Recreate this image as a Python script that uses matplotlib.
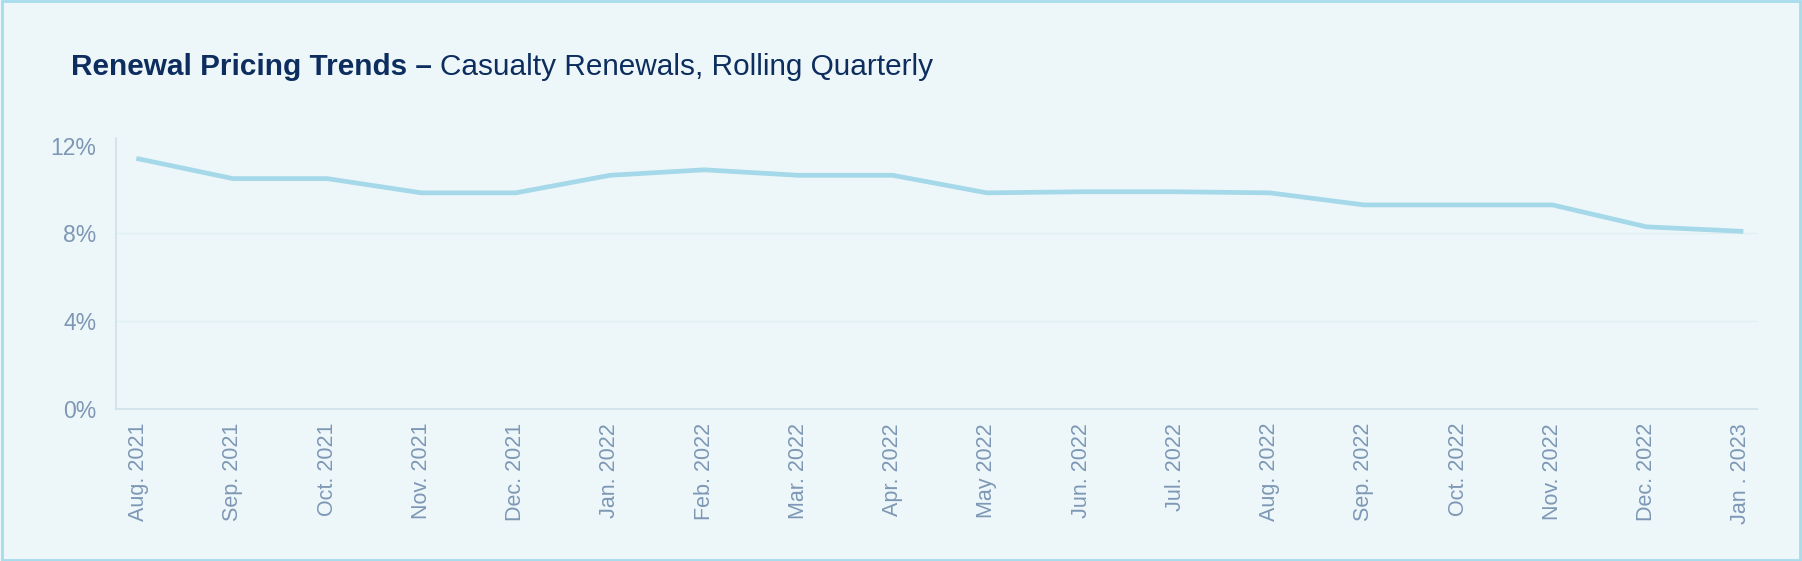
import matplotlib.pyplot as plt
from matplotlib.patches import Rectangle

months = ["Aug. 2021", "Sep. 2021", "Oct. 2021", "Nov. 2021", "Dec. 2021",
          "Jan. 2022", "Feb. 2022", "Mar. 2022", "Apr. 2022", "May 2022",
          "Jun. 2022", "Jul. 2022", "Aug. 2022", "Sep. 2022", "Oct. 2022",
          "Nov. 2022", "Dec. 2022", "Jan . 2023"]
pricing = [11.4, 10.5, 10.5, 9.85, 9.85, 10.65, 10.9, 10.65, 10.65, 9.85,
           9.9, 9.9, 9.85, 9.3, 9.3, 9.3, 8.3, 8.1]
yticks = [0, 4, 8, 12]
grid_levels = [4, 8]

bg = "#edf7f9"
navy = "#0c2d5e"
tick_col = "#7d97b5"

plt.rcParams['font.family'] = ['Liberation Sans', 'DejaVu Sans']

fig = plt.figure(figsize=(18.02, 5.61), dpi=100, facecolor=bg)
ax = fig.add_axes([116 / 1802, 1 - 409 / 561, (1757 - 116) / 1802, (409 - 138) / 561])
ax.set_facecolor(bg)

x = list(range(len(months)))
ax.plot(x, pricing, color="#a5d8e9", lw=3.4, solid_joinstyle="round", zorder=3)

for g in grid_levels:
    ax.axhline(g, color="#dfeef2", lw=1, zorder=1)

ax.set_xlim(-0.24, len(months) - 1 + 0.17)
ax.set_ylim(0, 12.35)
ax.set_yticks(yticks)
ax.set_yticklabels([f"{v}%" for v in yticks])
ax.set_xticks(x)
ax.set_xticklabels(months, rotation=90)
ax.tick_params(axis="both", length=0, colors=tick_col, labelsize=15.5)
ax.tick_params(axis="x", pad=10)
ax.tick_params(axis="y", pad=14)
for lbl in ax.get_yticklabels():
    lbl.set_fontsize(16.5)

for s in ["top", "right"]:
    ax.spines[s].set_visible(False)
for s in ["left", "bottom"]:
    ax.spines[s].set_color("#cfe1ea")
    ax.spines[s].set_linewidth(1.2)

# title: bold part + regular part
t1 = fig.text(71 / 1802, 1 - 67 / 561, "Renewal Pricing Trends \u2013 ", color=navy,
              fontsize=21.4, fontweight="bold", va="center", ha="left")
fig.canvas.draw()
bb = t1.get_window_extent()
fig.text(bb.x1 / 1802, 1 - 67 / 561, "Casualty Renewals, Rolling Quarterly", color=navy,
         fontsize=21.4, va="center", ha="left")

# outer border
fig.patches.append(Rectangle((0.001, 0.002), 0.998, 0.996, transform=fig.transFigure,
                             fill=False, edgecolor="#a6dcec", lw=2))

fig.savefig("out.png", dpi=100, facecolor=bg)
